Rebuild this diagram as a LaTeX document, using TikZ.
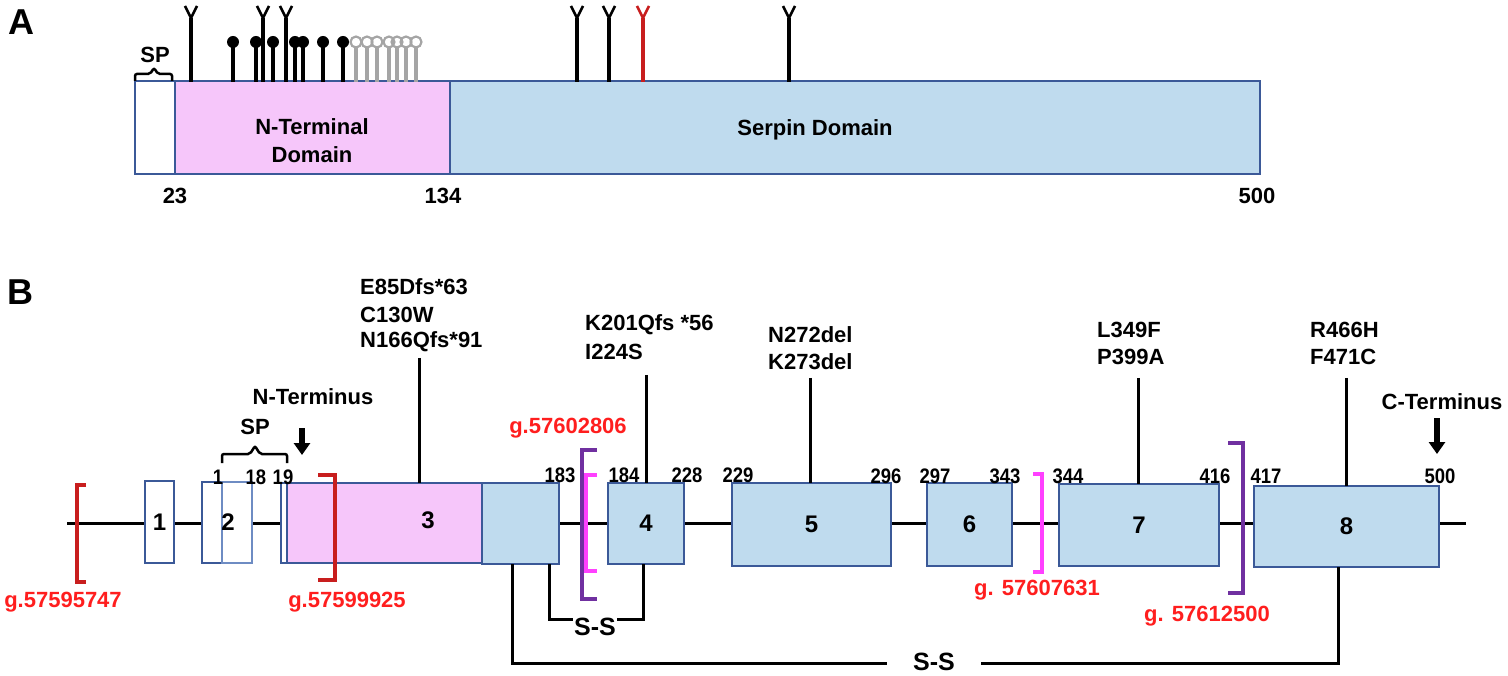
\documentclass[tikz,border=0pt]{standalone}
\usepackage{fontspec}
\setmainfont{Liberation Sans}
\usetikzlibrary{arrows.meta}
\definecolor{bord}{RGB}{59,89,152}
\definecolor{bordl}{RGB}{110,140,195}
\definecolor{pinkf}{RGB}{246,198,250}
\definecolor{bluef}{RGB}{191,219,238}
\definecolor{brred}{RGB}{200,30,30}
\definecolor{gred}{RGB}{255,30,30}
\definecolor{magb}{RGB}{255,64,255}
\definecolor{purb}{RGB}{112,48,160}
\definecolor{lgray}{RGB}{165,165,165}
\begin{document}
\begin{tikzpicture}[x=1pt,y=-1pt,
  rbox/.style={draw=bord,line width=2.5pt,inner sep=0pt,outer sep=0pt,anchor=north west,
    font=\fontsize{24}{28}\selectfont\bfseries},
  elab/.style={inner sep=0pt,font=\fontsize{24}{28}\selectfont\bfseries},
  lab/.style={inner sep=0pt,font=\fontsize{22}{26}\selectfont\bfseries},
  num/.style={inner sep=0pt,xscale=0.88,font=\fontsize{21}{25}\selectfont\bfseries},
  glab/.style={inner sep=0pt,text=gred,font=\fontsize{22}{26}\selectfont\bfseries},
  big/.style={inner sep=0pt,font=\fontsize{36}{40}\selectfont\bfseries},
  sslab/.style={inner ysep=0pt,font=\fontsize{25}{29}\selectfont\bfseries},
  bline/.style={line width=3pt},
  brk/.style={line width=3.5pt},
  stem/.style={line width=3.5pt},
  darr/.style={line width=5.5pt,-{Triangle[width=16pt,length=12pt]}}]
\useasboundingbox (0,0) rectangle (1508,676);

% ================= Panel A =================
\node[big] (A) at (21,22) {A};
\node[rbox,fill=white,minimum width=40pt,minimum height=93pt] (spA) at (135,81) {};
\node[rbox,fill=pinkf,minimum width=275pt,minimum height=93pt] (ntA) at (175,81) {};
\node[rbox,fill=bluef,minimum width=810pt,minimum height=93pt] (serA) at (450,81) {};
\node[lab,align=center] (ntAt) at (312,141) {N-Terminal\\[2pt]Domain};
\node[lab] (serAt) at (815,130) {Serpin Domain};
\node[lab] (n23) at (175,196) {23};
\node[lab] (n134) at (443,196) {134};
\node[lab] (n500A) at (1257,196) {500};
\node[lab] (spAt) at (155,55) {SP};
\draw[line width=2.5pt,rounded corners=2pt] (spA.north west) -- ++(0,-7) -- (150,74) -- (154,68) -- (158,74) -- (172,74) -- (172,81);

% lollipops
\foreach \x in {233,256,273,295,303,323,343} {
  \draw[stem] (\x,82) -- (\x,42);
  \fill (\x,42) circle[radius=6pt];
}
\foreach \x in {356,367,377,389,397,406,416} {
  \draw[stem,lgray] (\x,82) -- (\x,47);
}
\foreach \x in {356,367,377,389,397,406,416} {
  \draw[lgray,line width=2.2pt] (\x,42) circle[radius=5.5pt];
}
\foreach \x/\c in {191/black,263/black,286/black,577/black,609/black,643/brred,789/black} {
  \draw[stem,\c] (\x,82) -- (\x,18);
  \draw[line width=2.5pt,\c] (\x-6,6) -- (\x,18) -- (\x+6,6);
}

% ================= Panel B =================
\node[big] (B) at (20,292) {B};
\coordinate (l0) at (67,523);
\coordinate (l1) at (1466,523);
\draw[bline] (l0) -- (l1);

\node[rbox,fill=white,minimum width=29pt,minimum height=82pt] (e1) at (145,481) {1};
\node[rbox,fill=white,minimum width=20pt,minimum height=81pt] (e2a) at (202,482) {};
\node[rbox,draw=bordl,fill=white,minimum width=30pt,minimum height=81pt] (e2b) at (222,482) {};
\node[elab] (e2t) at (228,522) {2};
\node[rbox,fill=white,minimum width=201pt,minimum height=80pt] (e3) at (281,483) {};
\node[rbox,fill=pinkf,minimum width=195pt,minimum height=80pt] (e3p) at (287,483) {};
\node[elab] (e3t) at (428,520) {3};
\node[rbox,fill=bluef,minimum width=77pt,minimum height=81pt] (e3b) at (482,483) {};
\node[rbox,fill=bluef,minimum width=76pt,minimum height=81pt] (e4) at (608,483) {4};
\node[rbox,fill=bluef,minimum width=159pt,minimum height=83pt] (e5) at (732,483) {5};
\node[rbox,fill=bluef,minimum width=85pt,minimum height=83pt] (e6) at (927,483) {6};
\node[rbox,fill=bluef,minimum width=160pt,minimum height=82pt] (e7) at (1059,484) {7};
\node[rbox,fill=bluef,minimum width=185pt,minimum height=81pt] (e8) at (1254,486) {8};

% position numbers
\node[num] (p1) at (218,477) {1};
\node[num] (p18) at (256,477) {18};
\node[num] (p19) at (283,477) {19};
\node[num] (p183) at (560,475) {183};
\node[num] (p184) at (624,475) {184};
\node[num] (p228) at (687,475) {228};
\node[num] (p229) at (738,475) {229};
\node[num] (p296) at (886,476) {296};
\node[num] (p297) at (935,476) {297};
\node[num] (p343) at (1005,476) {343};
\node[num] (p344) at (1068,476) {344};
\node[num] (p416) at (1215,476) {416};
\node[num] (p417) at (1266,476) {417};
\node[num] (p500) at (1440,476) {500};

% SP brace B
\node[lab] (spB) at (255,427) {SP};
\draw[line width=2.5pt,rounded corners=2pt] (222,463) -- (222,454) -- (250,454) -- (255,446) -- (260,454) -- (287,454) -- (287,463);

% termini
\node[lab] (nterm) at (313,397) {N-Terminus};
\coordinate (na0) at (302,428);
\coordinate (na1) at (302,455);
\draw[darr] (na0) -- (na1);
\node[lab] (cterm) at (1442,402) {C-Terminus};
\coordinate (ca0) at (1437,418);
\coordinate (ca1) at (1437,454);
\draw[darr] (ca0) -- (ca1);

% brackets
\draw[brk,brred] (86,485) -- (77,485) -- (77,582) -- (86,582);
\draw[brk,brred] (318,475) -- (335,475) -- (335,580) -- (318,580);
\draw[brk,purb] (597,450) -- (582,450) -- (582,599) -- (597,599);
\draw[brk,magb] (597,475) -- (586,475) -- (586,571) -- (597,571);
\draw[brk,magb] (1033,474) -- (1042,474) -- (1042,572) -- (1033,572);
\draw[brk,purb] (1228,443) -- (1243,443) -- (1243,593) -- (1228,593);

% genomic labels
\node[glab] (g1) at (63,602) {g.57595747};
\node[glab] (g2) at (347,602) {g.57599925};
\node[glab] (g3) at (568,428) {g.57602806};
\node[glab] (g4) at (1037,590) {g. 57607631};
\node[glab] (g5) at (1207,616) {g. 57612500};

% mutation labels
\node[lab,anchor=west] (m3a) at (360,287) {E85Dfs*63};
\node[lab,anchor=west] (m3b) at (360,315) {C130W};
\node[lab,anchor=west] (m3c) at (360,342) {N166Qfs*91};
\node[lab,anchor=west] (m4a) at (585,325) {K201Qfs *56};
\node[lab,anchor=west] (m4b) at (585,352) {I224S};
\node[lab,anchor=west] (m5a) at (768,335) {N272del};
\node[lab,anchor=west] (m5b) at (768,362) {K273del};
\node[lab,anchor=west] (m7a) at (1097,330) {L349F};
\node[lab,anchor=west] (m7b) at (1097,357) {P399A};
\node[lab,anchor=west] (m8a) at (1310,330) {R466H};
\node[lab,anchor=west] (m8b) at (1310,357) {F471C};

\coordinate (t3) at (419,358);
\coordinate (t4) at (646,375);
\coordinate (t5) at (810,378);
\coordinate (t7) at (1138,378);
\coordinate (t8) at (1346,378);
\draw[bline] (t3) -- (t3 |- e3.north);
\draw[bline] (t4) -- (t4 |- e4.north);
\draw[bline] (t5) -- (t5 |- e5.north);
\draw[bline] (t7) -- (t7 |- e7.north);
\draw[bline] (t8) -- (t8 |- e8.north);

% disulfide bonds
\node[sslab,inner xsep=1pt] (ss1) at (595,627) {S-S};
\coordinate (s1a) at (549,619);
\coordinate (s1b) at (643,619);
\draw[bline] (s1a |- e3b.south) -- (s1a) -- (ss1.west |- s1a);
\draw[bline] (ss1.east |- s1b) -- (s1b) -- (s1b |- e4.south);
\node[sslab,inner xsep=26pt] (ss2) at (934,662) {S-S};
\coordinate (s2a) at (512,663);
\coordinate (s2b) at (1338,663);
\draw[bline] (s2a |- e3b.south) -- (s2a) -- (ss2.west |- s2a);
\draw[bline] (ss2.east |- s2b) -- (s2b) -- (s2b |- e8.south);
\end{tikzpicture}
\end{document}
